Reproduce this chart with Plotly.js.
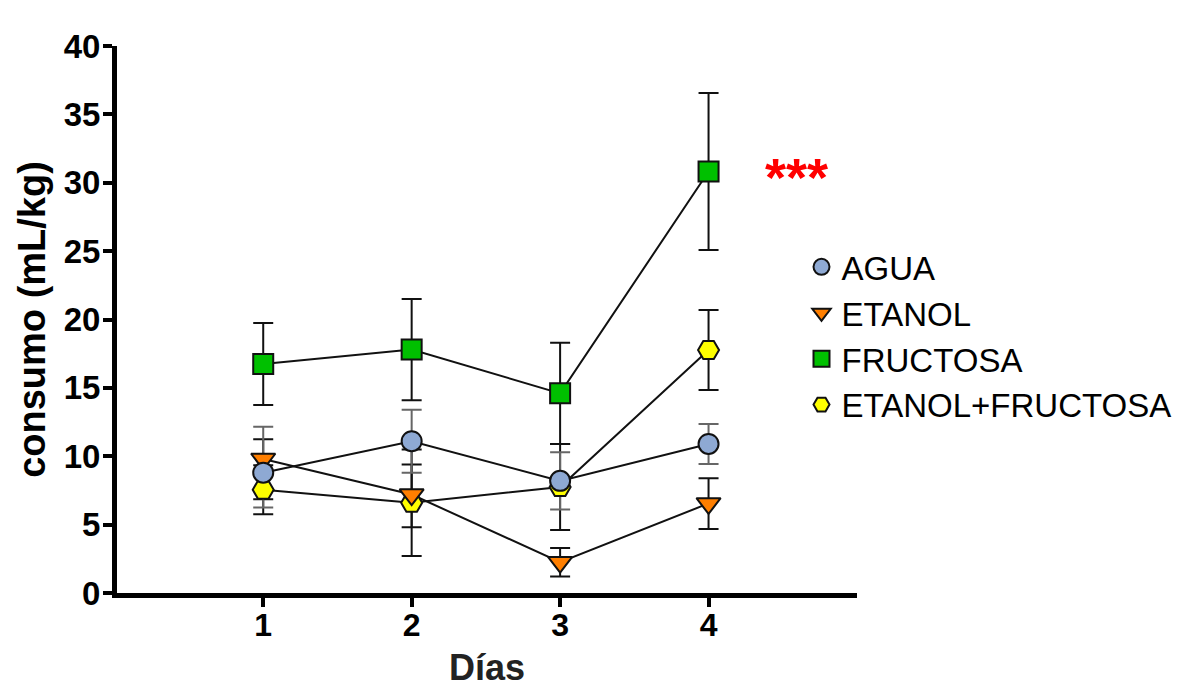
<!DOCTYPE html>
<html>
<head>
<meta charset="utf-8">
<script src="https://cdn.plot.ly/plotly-3.0.1.min.js"></script>
<style>html,body{margin:0;padding:0;background:#fff;}#chart{width:1192px;height:688px;}</style>
</head>
<body>
<div id="chart"></div>
<script>
// Data
const dias = [1, 2, 3, 4];
const agua = [8.8, 11.1, 8.2, 10.9];
const aguaErrPlus = [3.35, 2.3, 2.1, 1.46];
const aguaErrMinus = [2.55, 2.3, 2.1, 1.46];
const etanol = [9.8, 7.2, 2.25, 6.55];
const etanolErrPlus = [1.45, 2.2, 1.04, 1.85];
const etanolErrMinus = [2.95, 2.4, 1.04, 1.87];
const fructosa = [16.75, 17.8, 14.6, 30.82];
const fructosaErr = [3.0, 3.7, 3.7, 5.74];
const etanolFructosa = [7.55, 6.6, 7.75, 17.77];
const etanolFructosaErr = [1.8, 3.9, 3.15, 2.93];
const seriesNames = ["AGUA", "ETANOL", "FRUCTOSA", "ETANOL+FRUCTOSA"];
const xTickLabels = ["1", "2", "3", "4"];
const signifText = "***";

const FONT = "Liberation Sans, Arial, Helvetica, sans-serif";

function lineTrace(y, plus, minus, errColor) {
  return {
    x: dias, y: y, type: "scatter", mode: "lines", showlegend: false, hoverinfo: "skip",
    line: {color: "#111", width: 2},
    error_y: {type: "data", symmetric: false, array: plus, arrayminus: minus,
              color: errColor, thickness: 2, width: 10}
  };
}
function markerTrace(name, y, symbol, color, size) {
  return {
    x: dias, y: y, type: "scatter", mode: "markers", name: name,
    marker: {symbol: symbol, color: color, size: size, line: {color: "#111", width: 2}}
  };
}

const data = [
  lineTrace(etanolFructosa, etanolFructosaErr, etanolFructosaErr, "#111"),
  lineTrace(fructosa, fructosaErr, fructosaErr, "#111"),
  lineTrace(etanol, etanolErrPlus, etanolErrMinus, "#111"),
  lineTrace(agua, aguaErrPlus, aguaErrMinus, "#666"),
  markerTrace(seriesNames[3], etanolFructosa, "hexagon2", "#FFFF00", 21),
  markerTrace(seriesNames[2], fructosa, "square", "#00C000", 20),
  markerTrace(seriesNames[1], etanol, "triangle-down", "#FF7F00", 21),
  markerTrace(seriesNames[0], agua, "circle", "#8EA9D3", 20)
];

const layout = {
  width: 1192, height: 688,
  margin: {l: 117, r: 335, t: 46, b: 95},
  paper_bgcolor: "#fff", plot_bgcolor: "#fff",
  showlegend: true,
  legend: {x: 0.925, xanchor: "left", y: 0.47, yanchor: "middle", traceorder: "reversed",
           font: {family: FONT, size: 33, color: "#000"}, bgcolor: "rgba(0,0,0,0)",
           itemwidth: 30, tracegroupgap: 0},
  xaxis: {
    range: [0.015, 5], tickvals: dias, ticktext: xTickLabels,
    showgrid: false, zeroline: false, showline: true, linecolor: "#000", linewidth: 5,
    ticks: "outside", ticklen: 9, tickwidth: 4, tickcolor: "#000", ticklabelstandoff: -9,
    tickfont: {family: FONT, size: 32, color: "#000", weight: "bold"},
    title: {text: "Días", font: {family: FONT, size: 36, color: "#222", weight: "bold"}, standoff: 24}
  },
  yaxis: {
    range: [0, 40], tickvals: [0, 5, 10, 15, 20, 25, 30, 35, 40],
    showgrid: false, zeroline: false, showline: true, linecolor: "#000", linewidth: 5,
    ticks: "outside", ticklen: 9, tickwidth: 4, tickcolor: "#000", ticklabelstandoff: -4,
    tickfont: {family: FONT, size: 33, color: "#000", weight: "bold"},
    title: {text: "consumo (mL/kg)", font: {family: FONT, size: 38, color: "#000", weight: "bold"}, standoff: 8}
  },
  annotations: [{
    x: 4.59, y: 30.4, xref: "x", yref: "y", text: signifText, showarrow: false,
    font: {family: FONT, size: 54, color: "#FF0000", weight: "bold"}
  }]
};

Plotly.newPlot("chart", data, layout, {displayModeBar: false, staticPlot: true});
</script>
</body>
</html>
